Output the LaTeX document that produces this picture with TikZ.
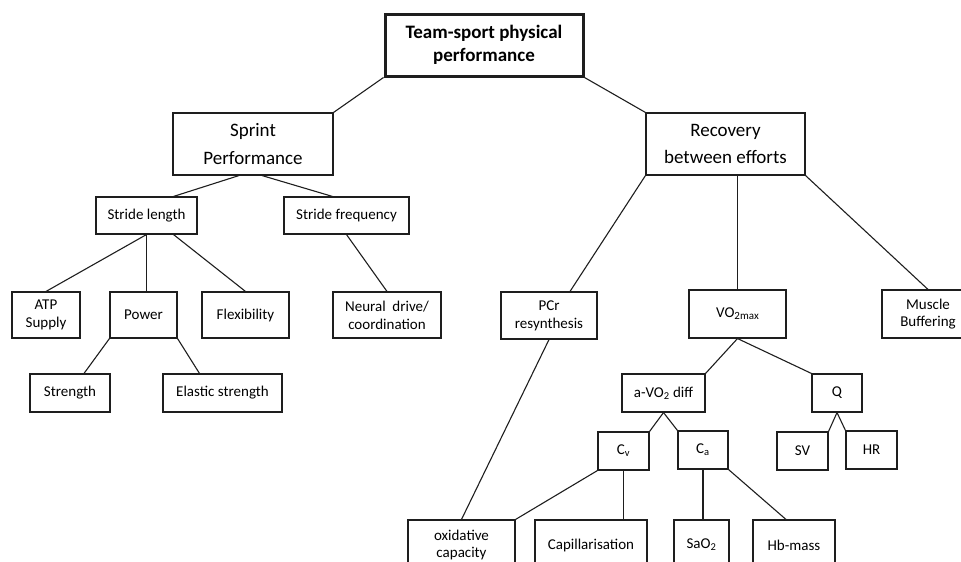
\documentclass[tikz,border=0pt]{standalone}
\usepackage{fontspec}
\setmainfont{Carlito}
\usepackage{xcolor}
\definecolor{boxline}{HTML}{1E1E1E}

\begin{document}
\begin{tikzpicture}[x=1pt,y=-1pt,
  item/.style={draw=boxline,line width=1.1pt,align=center,inner sep=0pt,font=\fontsize{15}{17.7}\selectfont},
  main/.style={item,font=\fontsize{19}{27.5}\selectfont},
  root/.style={item,line width=3pt,font=\bfseries\fontsize{19}{22.5}\selectfont},
  link/.style={boxline,line width=1.1pt}]
  \clip (0,0) rectangle (961,562);
  \node[root,minimum width=198pt,minimum height=62pt] (top) at (484,45) {Team-sport physical\\performance};
  \node[main,minimum width=160pt,minimum height=62pt] (sprint) at (253,144) {Sprint\\Performance};
  \node[main,minimum width=159pt,minimum height=62pt] (recov) at (725.5,144) {Recovery\\between efforts};
  \node[item,minimum width=101pt,minimum height=37pt] (slen) at (146.5,215.5) {Stride length};
  \node[item,minimum width=125pt,minimum height=37pt] (sfreq) at (346.5,215.5) {Stride frequency};
  \node[item,minimum width=68pt,minimum height=46pt] (atp) at (46,315) {ATP\\Supply};
  \node[item,minimum width=67pt,minimum height=46pt] (power) at (143.5,315) {Power};
  \node[item,minimum width=87pt,minimum height=46pt] (flex) at (245.5,315) {Flexibility};
  \node[item,minimum width=108pt,minimum height=46pt] (neural) at (387,315) {Neural\ \ drive/\\coordination};
  \node[item,minimum width=80pt,minimum height=38pt] (strength) at (70,393) {Strength};
  \node[item,minimum width=119pt,minimum height=38pt] (elastic) at (222.5,393) {Elastic strength};
  \node[item,minimum width=96pt,minimum height=47pt] (pcr) at (549,315.5) {PCr\\resynthesis};
  \node[item,minimum width=97pt,minimum height=48pt] (vo2) at (737.5,314) {VO{\fontsize{11}{11}\selectfont\raisebox{-0.35ex}{2max}}};
  \node[item,minimum width=92pt,minimum height=48pt] (muscle) at (928,314) {Muscle\\Buffering};
  \node[item,minimum width=83pt,minimum height=38pt] (avo2) at (663.5,393) {a-VO\textsubscript{2} diff};
  \node[item,minimum width=50pt,minimum height=38pt] (q) at (837,393) {Q};
  \node[item,minimum width=51pt,minimum height=38pt] (cv) at (623.5,451) {C\textsubscript{v}};
  \node[item,minimum width=50pt,minimum height=38pt] (ca) at (703,450) {C\textsubscript{a}};
  \node[item,minimum width=51pt,minimum height=38pt] (sv) at (802.5,451) {SV};
  \node[item,minimum width=51pt,minimum height=38pt] (hr) at (871.5,450) {HR};
  \node[item,minimum width=107pt,minimum height=50pt] (oxid) at (461.5,545) {oxidative\\capacity};
  \node[item,minimum width=112pt,minimum height=50pt] (capil) at (591,545) {Capillarisation};
  \node[item,minimum width=55pt,minimum height=50pt] (sao2) at (701.5,545) {SaO\textsubscript{2}};
  \node[item,minimum width=82pt,minimum height=50pt] (hbmass) at (794,545) {Hb-mass};
  \foreach \a/\b in {top.south west/sprint.north east,top.south east/recov.north west,
      sfreq.south/neural.north,slen.south/atp.north,recov.south east/muscle.north,
      pcr.south/oxid.north,vo2.south/avo2.north east,vo2.south/q.north west,
      avo2.south/cv.north east,avo2.south/ca.north west,q.south/sv.north east,
      q.south/hr.north west,cv.south west/oxid.north east}
    \draw[link] (\a) -- (\b);
  \draw[link] ([xshift=-14pt]sprint.south) -- ([xshift=27pt]slen.north);
  \draw[link] ([xshift=9pt]sprint.south) -- ([xshift=-14pt]sfreq.north);
  \draw[link] (slen.south) -- (slen.south |- power.north);
  \draw[link] ([xshift=27pt]slen.south) -- (flex.north);
  \draw[link] (power.south west) -- ([xshift=14pt]strength.north);
  \draw[link] (power.south east) -- ([xshift=-23pt]elastic.north);
  \draw[link] (recov.south west) -- ([xshift=21pt]pcr.north);
  \draw[link] (vo2.north |- recov.south) -- (vo2.north);
  \draw[link] (cv.south) -- (cv.south |- capil.north);
  \draw[link] (ca.south) -- (ca.south |- sao2.north);
  \draw[link] (ca.south east) -- ([xshift=-8pt]hbmass.north);
\end{tikzpicture}
\end{document}
